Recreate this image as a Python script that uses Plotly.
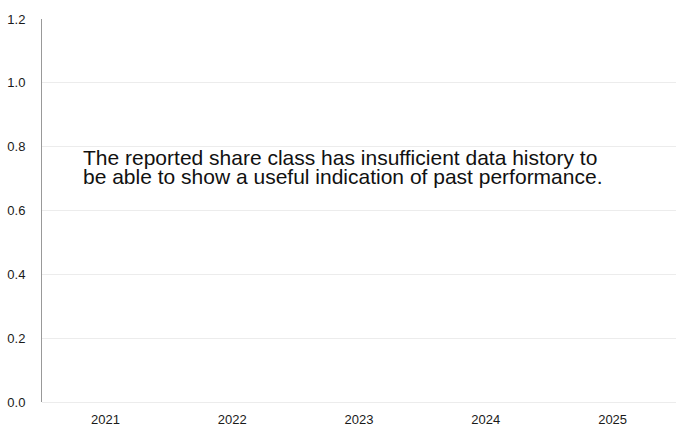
import plotly.graph_objects as go

years = ["2021", "2022", "2023", "2024", "2025"]
returns = [None, None, None, None, None]
y_ticks = [0.0, 0.2, 0.4, 0.6, 0.8, 1.0, 1.2]
y_tick_labels = ["0.0", "0.2", "0.4", "0.6", "0.8", "1.0", "1.2"]
message_lines = [
    "The reported share class has insufficient data history to",
    "be able to show a useful indication of past performance.",
]
message_y = [0.7676, 0.708]

fig = go.Figure()
fig.add_trace(go.Bar(x=years, y=returns, marker_color="#1f3b73", showlegend=False))

for line, yy in zip(message_lines, message_y):
    fig.add_annotation(
        text=line, xref="paper", yref="y", x=0.0615, y=yy,
        xanchor="left", yanchor="middle", showarrow=False,
        font=dict(family="Liberation Sans, Arial, sans-serif", size=21, color="#111111"),
    )

fig.update_layout(
    width=676, height=426,
    margin=dict(l=42, r=0, t=19, b=24),
    paper_bgcolor="white", plot_bgcolor="white",
    font=dict(family="Liberation Sans, Arial, sans-serif", size=13, color="#1a1a1a"),
    showlegend=False,
)
fig.update_xaxes(
    type="category", categoryorder="array", categoryarray=years,
    range=[-0.5, 4.5], showgrid=False, showline=False, zeroline=False,
    ticks="", tickfont=dict(size=13), ticklabelstandoff=8,
)
fig.update_yaxes(
    range=[0, 1.2], tickvals=y_ticks, ticktext=y_tick_labels,
    showgrid=True, gridcolor="#ececec", gridwidth=1,
    showline=True, linecolor="#999999", linewidth=1,
    zeroline=True, zerolinecolor="#ececec", zerolinewidth=1,
    ticks="", tickfont=dict(size=13), ticklabelstandoff=13,
)

fig.write_html(
    "out.html",
    config={"displayModeBar": False},
    post_script="document.body.style.margin='0';document.body.style.overflow='hidden';",
)
